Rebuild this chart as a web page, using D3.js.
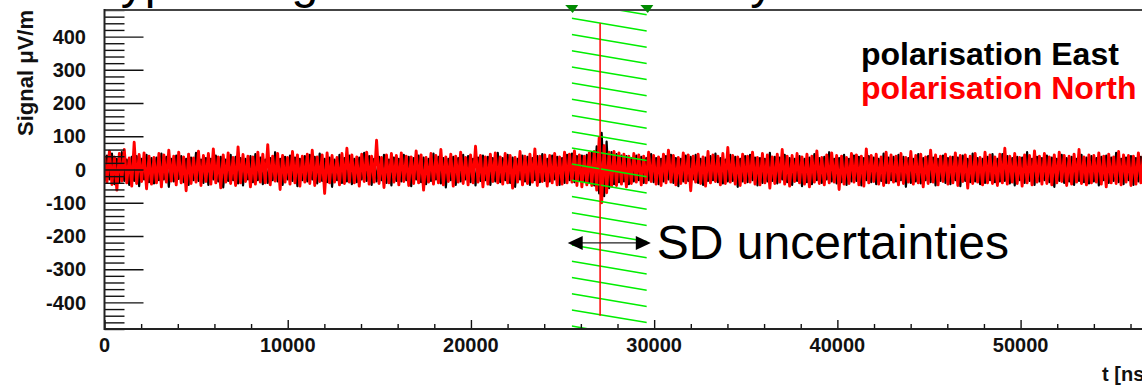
<!DOCTYPE html>
<html><head><meta charset="utf-8">
<script src="https://cdn.jsdelivr.net/npm/d3@7"></script>
<style>body{margin:0;background:#fff;overflow:hidden} svg{display:block}</style>
</head><body><svg id="c" width="1142" height="387"></svg>
<script>
// ---- data ----
const dt = 135; // ns between samples
const east = [
-36,42,-30,48,-44,32,-38,52,-34,30,-46,38,-34,40,-50,32,-30,44,-38,34,
-42,36,-32,48,-30,38,-52,32,-36,42,-28,40,-38,32,-46,36,-32,50,-34,30,
-40,34,-46,32,-30,42,-36,38,-54,30,-34,44,-32,38,-42,34,-48,32,-30,40,
-38,46,-32,36,-44,30,-40,34,-32,52,-36,32,-46,38,-30,42,-34,36,-50,32,
-32,40,-36,44,-30,38,-42,48,-34,32,-38,36,-52,30,-32,44,-40,34,-36,42,
-44,32,-38,36,-30,50,-34,40,-46,32,-36,38,-32,44,-40,30,-48,36,-34,32,
-36,44,-32,38,-50,34,-30,42,-38,36,-44,32,-34,48,-30,38,-42,34,-54,32,
-32,38,-46,34,-36,44,-30,40,-38,32,-48,36,-34,42,-32,38,-46,34,-36,50,
-38,34,-32,44,-40,36,-52,32,-30,42,-36,38,-46,34,-32,40,-38,46,-34,32,
-36,42,-30,38,-46,34,-40,44,-32,48,-38,40,-34,42,-36,44,-40,52,-48,70,
-72,110,-80,84,-56,52,-44,46,-38,42,-36,40,-44,34,-36,42,-32,38,-40,34,
-32,46,-38,34,-44,32,-36,40,-30,44,-40,34,-50,32,-36,42,-34,38,-30,44,
-40,32,-46,36,-34,40,-32,48,-38,34,-42,30,-36,44,-34,38,-52,32,-36,40,
-38,44,-32,36,-48,34,-40,32,-36,50,-34,38,-42,36,-30,44,-38,34,-46,32,
-34,40,-50,32,-38,36,-44,46,-32,34,-40,38,-30,52,-36,32,-42,34,-38,44,
-46,32,-36,42,-34,38,-48,34,-32,40,-38,36,-44,32,-34,48,-40,36,-32,38,
-36,44,-32,38,-52,34,-40,32,-36,46,-42,34,-32,40,-38,36,-48,32,-34,42,
-40,34,-44,38,-32,36,-50,42,-34,32,-38,48,-36,34,-44,32,-40,38,-32,46,
-38,32,-36,46,-34,40,-42,34,-48,38,-32,36,-40,52,-34,32,-46,38,-36,34,
-32,42,-38,36,-52,32,-34,44,-40,34,-36,38,-46,32,-34,44,-38,36,-42,40,
-36,34,-48,38,-32,42,-40,36,-34,50,-38,32,-44,36,-32,40,-46,34,-36,38,
-34,46,-38,32];
const north = [
42,-38,55,-45,38,-62,48,-35,60,-40,35,-50,82,-42,45,-36,50,-58,40,-44,
36,-40,48,-52,44,-38,58,-35,40,-46,52,-40,38,-64,46,-42,35,-38,55,-48,
42,-36,48,-44,62,-40,38,-55,44,-38,50,-42,36,-48,68,-40,45,-36,40,-52,
38,-44,52,-38,46,-40,75,-46,40,-35,48,-60,42,-38,36,-44,54,-40,44,-50,
40,-38,46,-42,58,-48,38,-36,44,-72,50,-40,42,-38,36,-46,48,-42,64,-38,
44,-40,38,-50,46,-36,52,-44,40,-38,88,-42,36,-54,44,-40,48,-38,42,-46,
50,-36,40,-48,38,-42,56,-40,44,-62,36,-38,48,-44,42,-40,60,-46,38,-36,
46,-50,40,-38,52,-42,36,-46,44,-40,70,-38,42,-52,38,-44,46,-36,50,-40,
38,-44,48,-40,42,-56,36,-38,54,-46,40,-42,46,-38,62,-48,40,-36,44,-50,
42,-40,48,-46,38,-44,52,-40,46,-38,56,-48,44,-52,40,-46,50,-48,54,-62,
96,-100,72,-70,52,-50,54,-48,50,-44,46,-52,40,-42,48,-38,44,-46,40,-40,
52,-36,42,-44,38,-48,46,-40,58,-38,42,-46,36,-42,50,-40,44,-64,40,-38,
46,-42,38,-50,54,-40,44,-36,40,-46,48,-42,66,-38,42,-44,38,-48,46,-40,
40,-38,52,-44,36,-46,48,-40,44,-56,38,-42,46,-38,60,-44,40,-50,42,-36,
48,-40,38,-44,46,-52,40,-38,56,-42,36,-46,44,-40,50,-38,42,-60,40,-44,
36,-42,48,-38,44,-46,40,-50,62,-40,42,-36,46,-44,38,-48,52,-40,44,-38,
40,-46,48,-42,36,-38,54,-44,42,-40,46,-52,38,-42,58,-38,44,-46,40,-36,
46,-44,38,-40,50,-48,42,-36,44,-56,40,-42,48,-38,36,-46,52,-40,44,-42,
38,-48,46,-40,64,-44,40,-38,48,-42,36,-50,44,-40,42,-46,56,-38,40,-44,
48,-42,38,-46,44,-40,52,-36,42,-48,40,-44,46,-38,60,-42,38,-46,44,-40,
42,-38,50,-44,40,-52,46,-40,38,-42,54,-46,44,-38,42,-48,40,-44,50,-40,
44,-42,38,-46];
const xTicks = [0, 10000, 20000, 30000, 40000, 50000];
const yTicks = [-400, -300, -200, -100, 0, 100, 200, 300, 400];
const seriesNames = ["polarisation East", "polarisation North"];
const seriesColors = ["#000000", "#ff0000"];
const sdWindow = [25500, 29600];   // SD time uncertainty [ns]
const radioTime = 27050;           // marker line [ns]
const markerRange = [-440, 440];   // µV/m
const arrowLevel = -221;           // µV/m
const titleText = "Typical signal from a cosmic ray";
const xTitle = "t [ns]";
const yTitle = "Signal \u03bcV/m";
const annotation = "SD uncertainties";

// ---- drawing ----
const svg = d3.select("#c");
const font = "'Liberation Sans', Arial, Helvetica, sans-serif";
const x = d3.scaleLinear().domain([0, 57500]).range([104.5, 1158]);
const y = d3.scaleLinear().domain([-480, 480]).range([329, 10]);
const [X0, X1] = x.range(); const [Y0, Y1] = y.range();

// title (cut off at the top edge, as in the reference)
svg.append("text").attr("x", 94).attr("y", -2).attr("font-family", font)
  .attr("font-size", 48).attr("fill", "#000").text(titleText);

const defs = svg.append("defs");
defs.append("clipPath").attr("id", "plot").append("rect")
  .attr("x", X0).attr("y", Y1).attr("width", X1 - X0).attr("height", Y0 - Y1);
defs.append("clipPath").attr("id", "win").append("rect")
  .attr("x", x(sdWindow[0])).attr("y", Y1)
  .attr("width", x(sdWindow[1]) - x(sdWindow[0])).attr("height", Y0 - Y1);

// traces
const line = d3.line().x((d, i) => x(i * dt)).y(d => y(d));
const traces = svg.append("g").attr("clip-path", "url(#plot)");
[east, north].forEach((s, k) => {
  traces.append("path").datum(s).attr("d", line).attr("fill", "none")
    .attr("stroke", seriesColors[k]).attr("stroke-width", k ? 2.9 : 2.2)
    .attr("stroke-linejoin", "round");
});

// hatched SD window
const hatch = svg.append("g").attr("clip-path", "url(#win)");
const xa = x(sdWindow[0]), xb = x(sdWindow[1]);
for (let k = -2; k < 22; k++) {
  const y0 = Y1 + 8.3 + 16.2 * k;
  hatch.append("line").attr("x1", xa).attr("y1", y0).attr("x2", xb).attr("y2", y0 + 12.7)
    .attr("stroke", "#00ee00").attr("stroke-width", 1.5);
}

// red marker line
svg.append("line").attr("x1", x(radioTime)).attr("x2", x(radioTime))
  .attr("y1", y(markerRange[1])).attr("y2", y(markerRange[0]))
  .attr("stroke", "#ff0000").attr("stroke-width", 1.5);

// axes (ticks inward, ROOT style)
const noDomain = g => g.select(".domain").remove();
const yMinor = d3.range(-480, 481, 20).filter(v => v % 100 !== 0);
const xMinor = d3.range(0, 57501, 2000).filter(v => v % 10000 !== 0);
svg.append("g").attr("transform", `translate(${X0},0)`)
  .call(d3.axisLeft(y).tickValues(yTicks).tickSize(-39).tickFormat(""))
  .call(noDomain).selectAll("line").attr("stroke", "#111").attr("stroke-width", 1.4);
svg.append("g").attr("transform", `translate(${X0},0)`)
  .call(d3.axisLeft(y).tickValues(yMinor).tickSize(-20).tickFormat(""))
  .call(noDomain).selectAll("line").attr("stroke", "#111").attr("stroke-width", 1.4);
svg.append("g").attr("transform", `translate(0,${Y0})`)
  .call(d3.axisBottom(x).tickValues(xTicks).tickSize(-9).tickFormat(""))
  .call(noDomain).selectAll("line").attr("stroke", "#111").attr("stroke-width", 1.4);
svg.append("g").attr("transform", `translate(0,${Y0})`)
  .call(d3.axisBottom(x).tickValues(xMinor).tickSize(-5).tickFormat(""))
  .call(noDomain).selectAll("line").attr("stroke", "#111").attr("stroke-width", 1.4);

// frame
svg.append("line").attr("x1", X0).attr("x2", X1).attr("y1", Y1).attr("y2", Y1)
  .attr("stroke", "#444").attr("stroke-width", 2);
svg.append("line").attr("x1", X0).attr("x2", X1).attr("y1", Y0).attr("y2", Y0)
  .attr("stroke", "#222").attr("stroke-width", 2);
svg.append("line").attr("x1", X0).attr("x2", X0).attr("y1", Y1 - 1).attr("y2", Y0 + 1)
  .attr("stroke", "#222").attr("stroke-width", 2);

// green markers at top
svg.selectAll(".tri").data(sdWindow).join("path")
  .attr("d", d => `M${x(d) - 6.5},${Y1 - 5}L${x(d) + 6.5},${Y1 - 5}L${x(d) + 1},${Y1 + 3}Z`)
  .attr("fill", "#008a00");

// tick labels
svg.append("g").selectAll("text").data(xTicks).join("text")
  .attr("x", d => x(d)).attr("y", 352).attr("text-anchor", "middle")
  .attr("font-family", font).attr("font-weight", "bold").attr("font-size", 20)
  .attr("fill", "#111").text(d => d);
svg.append("g").selectAll("text").data(yTicks).join("text")
  .attr("x", 86).attr("y", d => y(d)).attr("dy", "0.36em").attr("text-anchor", "end")
  .attr("font-family", font).attr("font-weight", "bold").attr("font-size", 20)
  .attr("fill", "#111").text(d => d);

// axis titles
svg.append("text").attr("x", 1151).attr("y", 381).attr("text-anchor", "end")
  .attr("font-family", font).attr("font-weight", "bold").attr("font-size", 20)
  .attr("fill", "#111").text(xTitle);
svg.append("text").attr("transform", `translate(33,${Y1}) rotate(-90)`)
  .attr("text-anchor", "end").attr("font-family", font).attr("font-weight", "bold")
  .attr("font-size", 22).attr("fill", "#111").text(yTitle);

// legend
svg.append("g").selectAll("text").data(seriesNames).join("text")
  .attr("x", 861).attr("y", (d, i) => 65 + i * 33.5)
  .attr("font-family", font).attr("font-weight", "bold").attr("font-size", 32)
  .attr("fill", (d, i) => seriesColors[i]).text(d => d);

// SD uncertainty arrow + label
const ay = y(arrowLevel), al = xa - 4, ar = xb + 4;
svg.append("line").attr("x1", al + 10).attr("x2", ar - 10).attr("y1", ay).attr("y2", ay)
  .attr("stroke", "#222").attr("stroke-width", 1.2);
svg.append("path").attr("d", `M${al},${ay}L${al + 15},${ay - 7}L${al + 15},${ay + 7}Z`).attr("fill", "#000");
svg.append("path").attr("d", `M${ar},${ay}L${ar - 15},${ay - 7}L${ar - 15},${ay + 7}Z`).attr("fill", "#000");
svg.append("text").attr("x", ar + 6).attr("y", ay + 16)
  .attr("font-family", font).attr("font-size", 48).attr("fill", "#000").text(annotation);
</script></body></html>
